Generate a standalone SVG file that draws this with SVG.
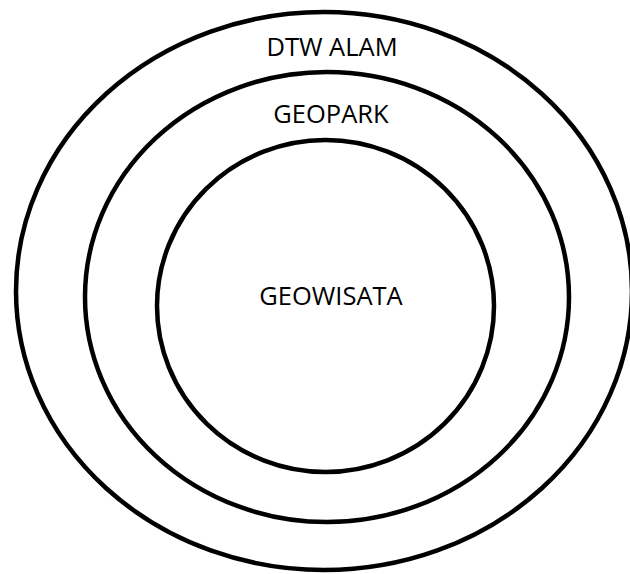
<svg xmlns="http://www.w3.org/2000/svg" width="630" height="574" viewBox="0 0 630 574">
<style>
.ring{fill:none;stroke:#000;stroke-width:4.5}
.lbl{font-family:"Open Sans","Noto Sans","Liberation Sans",sans-serif;font-size:25.5px;fill:#000;text-anchor:middle}
</style>
<rect width="630" height="574" fill="#fff"/>
<g id="dtw-alam">
<ellipse class="ring" cx="324" cy="291" rx="308" ry="279"/>
<text class="lbl" x="332" y="56">DTW ALAM</text>
</g>
<g id="geopark">
<ellipse class="ring" cx="327" cy="297" rx="242" ry="225"/>
<text class="lbl" x="331" y="123">GEOPARK</text>
</g>
<g id="geowisata">
<ellipse class="ring" cx="325.5" cy="306" rx="168.5" ry="166"/>
<text class="lbl" x="331" y="305">GEOWISATA</text>
</g>
<g id="connectors"></g>
</svg>
